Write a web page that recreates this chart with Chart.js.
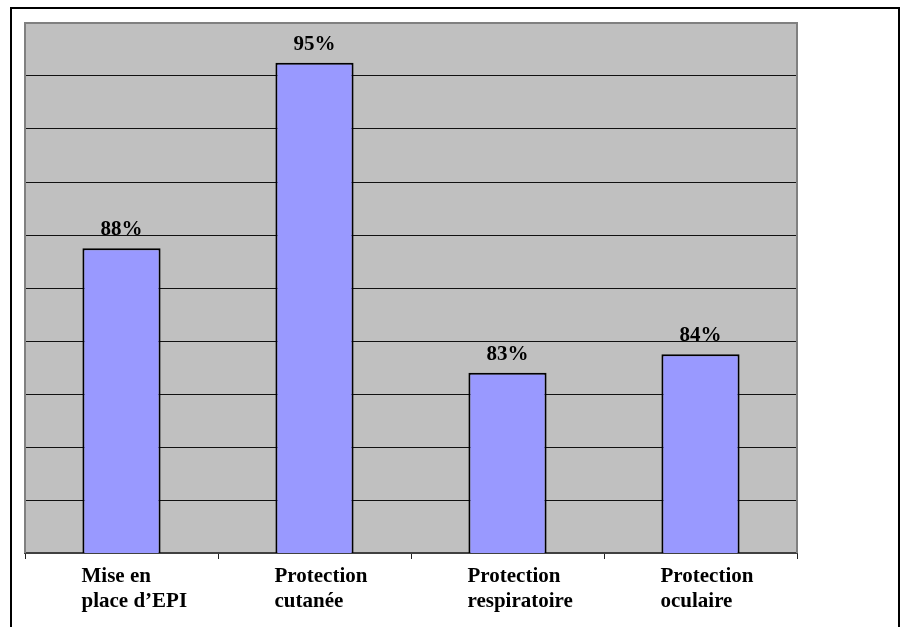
<!DOCTYPE html>
<html>
<head>
<meta charset="utf-8">
<script src="https://cdn.jsdelivr.net/npm/chart.js@4/dist/chart.umd.min.js"></script>
<style>
    body { margin: 0; background: #fff; }
    #wrap { position: relative; width: 900px; height: 627px; overflow: hidden; }
    #frame {
        position: absolute; left: 10px; top: 7px;
        width: 886px; height: 700px;
        border: 2px solid #000;
    }
    #chart { position: absolute; left: 0; top: 0; }
</style>
</head>
<body>
<div id="wrap">
    <div id="frame"></div>
    <canvas id="chart" width="900" height="627"></canvas>
</div>
<script>
    // categories (two lines each, as in the picture)
    const categories = [
        ['Mise en', 'place d\u2019EPI'],
        ['Protection', 'cutanée'],
        ['Protection', 'respiratoire'],
        ['Protection', 'oculaire']
    ];
    // percentages
    const values = [88, 95, 83.3, 84];

    // value axis (no labels shown, gridlines only)
    const yMin = 76.5;
    const yMax = 96.5;
    const yStep = 2;

    const labelFont = { family: "'Liberation Serif', 'Times New Roman', serif", size: 21, weight: 'bold' };

    // grey plot area with its border
    const plotBackground = {
        id: 'plotBackground',
        beforeDraw(chart) {
            const { ctx, chartArea } = chart;
            ctx.save();
            ctx.fillStyle = '#c0c0c0';
            ctx.fillRect(chartArea.left, chartArea.top, chartArea.right - chartArea.left, chartArea.bottom - chartArea.top);
            ctx.restore();
        },
        afterDraw(chart) {
            const { ctx, chartArea } = chart;
            ctx.save();
            ctx.strokeStyle = '#808080';
            ctx.lineWidth = 2;
            ctx.beginPath();
            ctx.moveTo(chartArea.left, chartArea.bottom);
            ctx.lineTo(chartArea.left, chartArea.top);
            ctx.lineTo(chartArea.right, chartArea.top);
            ctx.lineTo(chartArea.right, chartArea.bottom);
            ctx.stroke();
            ctx.restore();
        }
    };

    // "88%" etc. above each bar
    const valueLabels = {
        id: 'valueLabels',
        afterDatasetsDraw(chart) {
            const { ctx } = chart;
            const meta = chart.getDatasetMeta(0);
            ctx.save();
            ctx.font = 'bold 21px ' + labelFont.family;
            ctx.fillStyle = '#000';
            ctx.textAlign = 'center';
            ctx.textBaseline = 'alphabetic';
            meta.data.forEach((bar, i) => {
                ctx.fillText(Math.round(values[i]) + '%', bar.x, bar.y - 13);
            });
            ctx.restore();
        }
    };

    new Chart(document.getElementById('chart'), {
        type: 'bar',
        data: {
            labels: categories,
            datasets: [{
                data: values,
                backgroundColor: '#9999ff',
                borderColor: '#000',
                borderWidth: 2,
                borderSkipped: false,
                categoryPercentage: 1,
                barPercentage: 0.405
            }]
        },
        options: {
            responsive: false,
            animation: false,
            layout: { padding: { left: 25, top: 23, right: 103, bottom: 0 } },
            plugins: {
                legend: { display: false },
                tooltip: { enabled: false }
            },
            scales: {
                x: {
                    afterFit(scale) { scale.height = 74; },
                    grid: {
                        offset: true,
                        drawOnChartArea: false,
                        drawTicks: true,
                        tickLength: 6,
                        color: '#222',
                        lineWidth: 1
                    },
                    border: { display: true, color: '#404040', width: 2 },
                    ticks: {
                        font: labelFont,
                        color: '#000',
                        align: 'start',
                        labelOffset: -40,
                        padding: 5,
                        maxRotation: 0,
                        autoSkip: false
                    }
                },
                y: {
                    min: yMin,
                    max: yMax,
                    afterFit(scale) { scale.width = 0; },
                    grid: { color: '#111', lineWidth: 1, drawTicks: false },
                    border: { display: false },
                    ticks: { display: false, stepSize: yStep }
                }
            }
        },
        plugins: [plotBackground, valueLabels]
    });
</script>
</body>
</html>
